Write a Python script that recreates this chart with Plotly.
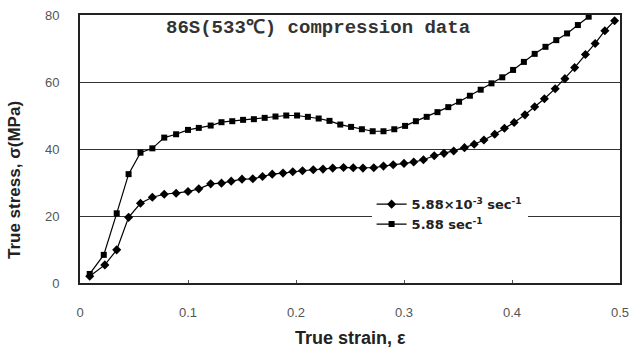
import plotly.graph_objects as go

# Series: 5.88 sec^-1 (upper curve, squares)
strain_fast = [0.009, 0.022, 0.034, 0.045, 0.056, 0.067, 0.078, 0.089, 0.100, 0.110,
               0.121, 0.131, 0.141, 0.151, 0.161, 0.171, 0.181, 0.191, 0.201, 0.211,
               0.221, 0.231, 0.241, 0.251, 0.261, 0.271, 0.281, 0.291, 0.301, 0.311,
               0.321, 0.331, 0.341, 0.351, 0.361, 0.371, 0.381, 0.391, 0.401, 0.411,
               0.421, 0.431, 0.441, 0.451, 0.461, 0.471]
stress_fast = [2.7, 8.4, 20.8, 32.5, 38.9, 40.2, 43.4, 44.4, 45.7, 46.3,
               47.0, 48.0, 48.3, 48.7, 48.9, 49.3, 49.7, 50.0, 50.0, 49.6,
               49.1, 48.4, 47.3, 46.6, 45.9, 45.3, 45.3, 45.9, 46.9, 48.3,
               49.6, 51.0, 52.5, 54.1, 55.9, 57.7, 59.6, 61.4, 63.6, 66.0,
               68.4, 70.5, 72.5, 74.5, 77.0, 79.5]

# Series: 5.88x10^-3 sec^-1 (lower curve, diamonds)
strain_slow = [0.009, 0.023, 0.034, 0.045, 0.056, 0.067, 0.078, 0.089, 0.100, 0.110,
               0.121, 0.131, 0.140, 0.150, 0.160, 0.169, 0.178, 0.188, 0.197, 0.206,
               0.216, 0.225, 0.234, 0.244, 0.253, 0.262, 0.272, 0.281, 0.290, 0.300,
               0.309, 0.318, 0.328, 0.337, 0.346, 0.356, 0.365, 0.374, 0.384, 0.393,
               0.402, 0.412, 0.421, 0.430, 0.440, 0.449, 0.458, 0.468, 0.477, 0.486,
               0.495]
stress_slow = [2.0, 5.4, 9.9, 19.6, 23.8, 25.6, 26.5, 26.8, 27.3, 28.1,
               29.6, 29.8, 30.4, 31.0, 31.1, 31.8, 32.5, 32.8, 33.2, 33.5,
               33.8, 34.0, 34.3, 34.5, 34.4, 34.3, 34.4, 34.9, 35.3, 35.7,
               36.1, 36.8, 38.0, 38.7, 39.4, 40.4, 41.4, 42.7, 44.4, 46.2,
               47.9, 50.2, 52.6, 55.0, 58.0, 61.0, 64.3, 68.2, 71.5, 75.3,
               78.3]

x_ticks = [0, 0.1, 0.2, 0.3, 0.4, 0.5]
x_tick_labels = ["0", "0.1", "0.2", "0.3", "0.4", "0.5"]
y_ticks = [0, 20, 40, 60, 80]
y_tick_labels = ["0", "20", "40", "60", "80"]

fig = go.Figure()
fig.add_trace(go.Scatter(
    x=strain_slow, y=stress_slow, mode="lines+markers",
    name="<b>5.88×10<sup>-3</sup> sec<sup>-1</sup></b>",
    line=dict(color="black", width=1.2),
    marker=dict(symbol="diamond", size=7, color="black"),
    cliponaxis=False,
))
fig.add_trace(go.Scatter(
    x=strain_fast, y=stress_fast, mode="lines+markers",
    name="<b>5.88 sec<sup>-1</sup></b>",
    line=dict(color="black", width=1.2),
    marker=dict(symbol="square", size=6, color="black"),
    cliponaxis=False,
))

fig.update_layout(
    width=634, height=351,
    margin=dict(l=80, r=14, t=15, b=68),
    paper_bgcolor="white", plot_bgcolor="white",
    font=dict(family="Liberation Sans, Arial, sans-serif", color="#333"),
    showlegend=True,
    legend=dict(x=0.54, y=0.35, xanchor="left", yanchor="top",
                bgcolor="white", borderwidth=0,
                font=dict(size=13, color="#222", family="DejaVu Sans, sans-serif"),
                tracegroupgap=0, itemwidth=30),
    xaxis=dict(range=[0, 0.5], tickvals=x_ticks, ticktext=x_tick_labels,
               showgrid=False, zeroline=False, automargin=False,
               showline=True, linecolor="#222", linewidth=2, mirror=True,
               ticks="inside", ticklen=3, tickcolor="#555",
               ticklabelstandoff=16,
               tickfont=dict(size=13, color="#555")),
    yaxis=dict(range=[0, 80], tickvals=y_ticks, ticktext=y_tick_labels,
               showgrid=True, gridcolor="#333", gridwidth=1.3, zeroline=False,
               automargin=False,
               showline=True, linecolor="#222", linewidth=2, mirror=True,
               ticks="", ticklabelstandoff=16,
               tickfont=dict(size=13, color="#555")),
)

# Axis titles
fig.add_annotation(
    text="<b>True strain, ε</b>", xref="paper", yref="paper",
    x=0.5, y=-0.205, xanchor="center", yanchor="middle", showarrow=False,
    font=dict(size=18, color="#222", family="Liberation Sans, Arial, sans-serif"),
)
fig.add_annotation(
    text="<b>True stress, σ(MPa)</b>", xref="paper", yref="paper",
    x=-0.12, y=0.385, xanchor="center", yanchor="middle", showarrow=False,
    textangle=-90,
    font=dict(size=17, color="#222", family="Liberation Sans, Arial, sans-serif"),
)

fig.add_annotation(
    text="<b>86S(533℃) compression data</b>",
    xref="paper", yref="paper", x=0.44, y=0.95, xanchor="center", yanchor="middle",
    showarrow=False,
    font=dict(size=19, color="#333", family="Liberation Mono, DejaVu Sans Mono, monospace"),
)

fig.write_html("out.html")
